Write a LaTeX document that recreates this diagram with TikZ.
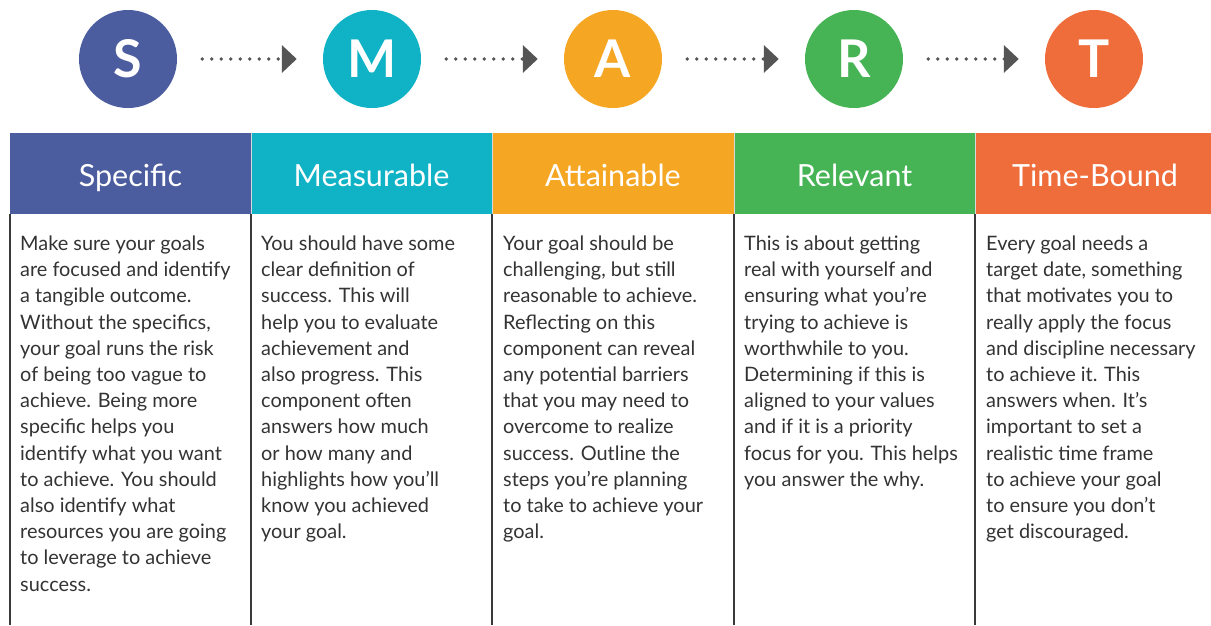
\documentclass[tikz,border=0pt]{standalone}
\usepackage{fontspec}
\setmainfont{Lato}
\usepackage{xcolor}
\usetikzlibrary{arrows.meta,positioning}
\definecolor{sblue}{HTML}{4B5D9E}
\definecolor{mteal}{HTML}{10B3C5}
\definecolor{aorange}{HTML}{F5A623}
\definecolor{rgreen}{HTML}{46B455}
\definecolor{tred}{HTML}{EF6C3B}
\definecolor{body}{HTML}{333333}
\definecolor{rule}{HTML}{3A3A3A}
\definecolor{dotgray}{HTML}{555555}
\tikzset{
  letter/.style={circle, minimum size=98pt, inner sep=0pt, text=white,
    font=\fontsize{52}{52}\selectfont\bfseries},
  flow/.style={draw=dotgray, line width=3.8pt, line cap=round,
    dash pattern=on 0pt off 9.5pt, shorten <=25pt, shorten >=26pt,
    -{Triangle[length=15pt,width=27pt,fill=dotgray]}},
  headtxt/.style={anchor=base, text=white, font=\fontsize{30.5}{30.5}\selectfont},
  bodytxt/.style={anchor=north west, inner sep=0pt, text=body, align=left,
    font=\fontsize{19.9}{26.2}\selectfont},
  colrule/.style={draw=rule, line width=1.3pt},
}
\begin{document}
\begin{tikzpicture}[x=1pt,y=-1pt]
  \useasboundingbox (0,0) rectangle (1211,625);

  % circles
  \node[letter, fill=sblue] (S) at (128,59) {S};
  \node[letter, fill=mteal] (M) at (372,59) {M};
  \node[letter, fill=aorange] (A) at (613,59) {A};
  \node[letter, fill=rgreen] (R) at (854,59) {R};
  \node[letter, fill=tred] (T) at (1094,59) {T};

  \draw[flow] (S) -- (M);
  \draw[flow] (M) -- (A);
  \draw[flow] (A) -- (R);
  \draw[flow] (R) -- (T);

  % header band
  \fill[sblue] (10,133) rectangle (251,214);
  \fill[mteal] (251,133) rectangle (492,214);
  \fill[aorange] (492,133) rectangle (734,214);
  \fill[rgreen] (734,133) rectangle (975,214);
  \fill[tred] (975,133) rectangle (1211,214);
  \foreach \x in {251,492,734,975}
    \draw[white!85!black, line width=0.8pt] (\x,133) -- (\x,214);

  \node[headtxt] (hS) at (130.5,186) {Specific};
  \node[headtxt] (hM) at (371.5,186) {Measurable};
  \node[headtxt] (hA) at (613,186) {Attainable};
  \node[headtxt] (hR) at (854.5,186) {Relevant};
  \node[headtxt] (hT) at (1095,186) {Time-Bound};

  % column rules
  \foreach \x in {10,251,492,734,975}
    \draw[colrule] (\x,214) -- (\x,625);

  \node[bodytxt] (bS) at (20,232) {\strut Make sure your goals\\
    are focused and identify\\ a tangible outcome.\\
    Without the specifics,\\ your goal runs the risk\\
    of being too vague to\\ achieve. Being more\\
    specific helps you\\ identify what you want\\
    to achieve. You should\\ also identify what\\
    resources you are going\\ to leverage to achieve\\ success.};
  \node[bodytxt] (bM) at (261,232) {\strut You should have some\\
    clear definition of\\ success. This will\\
    help you to evaluate\\ achievement and\\
    also progress. This\\ component often\\
    answers how much\\ or how many and\\
    highlights how you’ll\\ know you achieved\\ your goal.};
  \node[bodytxt] (bA) at (503,232) {\strut Your goal should be\\
    challenging, but still\\ reasonable to achieve.\\
    Reflecting on this\\ component can reveal\\
    any potential barriers\\ that you may need to\\
    overcome to realize\\ success. Outline the\\
    steps you’re planning\\ to take to achieve your\\ goal.};
  \node[bodytxt] (bR) at (744,232) {\strut This is about getting\\
    real with yourself and\\ ensuring what you’re\\
    trying to achieve is\\ worthwhile to you.\\
    Determining if this is\\ aligned to your values\\
    and if it is a priority\\ focus for you. This helps\\
    you answer the why.};
  \node[bodytxt] (bT) at (986,232) {\strut Every goal needs a\\
    target date, something\\ that motivates you to\\
    really apply the focus\\ and discipline necessary\\
    to achieve it. This\\ answers when. It’s\\
    important to set a\\ realistic time frame\\
    to achieve your goal\\ to ensure you don’t\\
    get discouraged.};
\end{tikzpicture}
\end{document}
